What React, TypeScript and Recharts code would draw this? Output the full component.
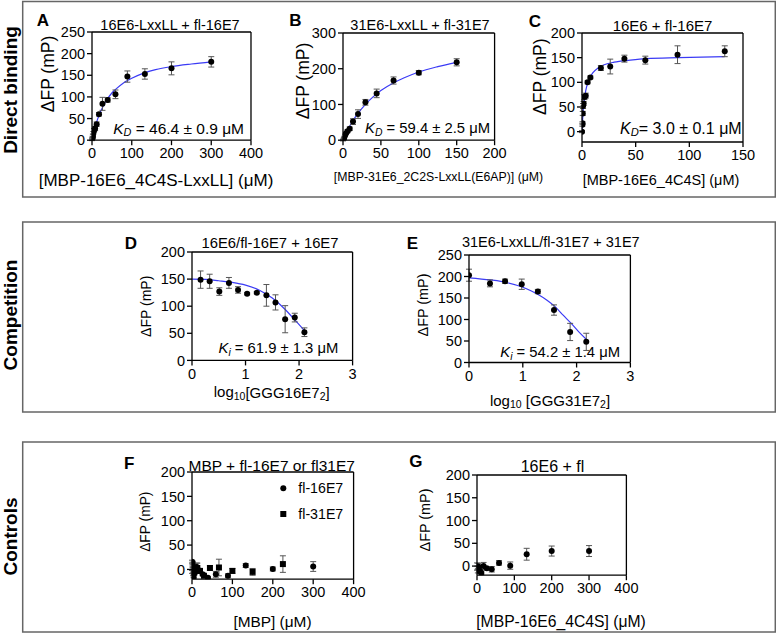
import React from 'react';
import { ComposedChart, Scatter, Line, XAxis, YAxis, ErrorBar, ReferenceLine } from 'recharts';

const FONT = '"Liberation Sans", Arial, sans-serif';

// A: 16E6-LxxLL + fl-16E7
const aConc = [0, 1.0, 1.5, 2.3, 3.5, 5.2, 7.8, 11.7, 17.6, 26.3, 39.5, 59, 89, 133, 200, 300];
const aFP = [1, 4, 7, 11, 17, 23, 27, 37, 60, 84, 93, 106, 147, 153, 166, 181];
const aErr = [2, 2, 2, 3, 3, 4, 5, 5, 4, 15, 5, 10, 13, 12, 15, 12];
const aFitX = [0, 2, 5, 10, 15, 20, 30, 40, 50, 60, 80, 100, 130, 160, 200, 250, 300];
const aFitY = [0, 8, 20, 37, 51, 63, 82, 97, 109, 118, 133, 143, 155, 163, 170, 176, 181];

// B: 31E6-LxxLL + fl-31E7
const bConc = [0, 0.8, 1.2, 1.7, 2.6, 3.9, 5.9, 8.8, 13.2, 19.8, 29.6, 44.4, 66.7, 100, 150];
const bFP = [0, 3, 6, 9, 14, 19, 25, 32, 52, 73, 106, 131, 167, 189, 218];
const bErr = [2, 2, 2, 2, 3, 3, 4, 5, 8, 12, 8, 12, 10, 6, 10];
const bFitX = [0, 2, 5, 10, 15, 20, 30, 40, 50, 67, 80, 100, 125, 150];
const bFitY = [0, 10, 23, 44, 61, 76, 101, 122, 139, 161, 174, 191, 206, 218];

// C: 16E6 + fl-16E7
const cConc = [0, 0.3, 0.46, 0.7, 1.0, 1.5, 2.3, 3.5, 5.2, 7.8, 17.6, 26.3, 39.5, 59, 89, 133];
const cFP = [0, 14, 17, 37, 52, 57, 70, 73, 100, 110, 129, 132, 148, 145, 156, 163];
const cErr = [2, 3, 3, 4, 5, 4, 5, 5, 3, 3, 5, 15, 7, 8, 18, 11];
const cFitX = [0, 0.5, 1, 1.5, 2.3, 3, 4, 5.2, 7, 10, 15, 20, 30, 45, 60, 90, 133];
const cFitY = [0, 22, 39, 52, 67, 77, 88, 98, 108, 119, 129, 135, 141, 145, 148, 150, 152];

// D: 16E6/fl-16E7 + 16E7
const dLog = [0.16, 0.33, 0.51, 0.69, 0.86, 1.03, 1.21, 1.39, 1.56, 1.74, 1.92, 2.1];
const dFP = [149, 146, 127, 143, 130, 123, 125, 120, 107, 76, 79, 52];
const dErr = [16, 13, 7, 10, 6, 2, 2, 20, 14, 25, 8, 8];
const dFitX = [0, 0.25, 0.5, 0.75, 1.0, 1.25, 1.5, 1.75, 1.9, 2.1];
const dFitY = [150, 149.5, 147, 144, 139, 130, 115, 93, 77, 55];

// E: 31E6-LxxLL/fl-31E7 + 31E7
const eLog = [0, 0.39, 0.67, 0.98, 1.28, 1.58, 1.88, 2.18];
const eFP = [203, 184, 189, 182, 165, 122, 71, 48];
const eErr = [14, 8, 5, 12, 5, 12, 20, 20];
const eFitX = [0, 0.4, 0.7, 1.0, 1.15, 1.3, 1.45, 1.6, 1.75, 1.9, 2.05, 2.18];
const eFitY = [197, 192, 186, 175, 167, 157, 145, 130, 110, 91, 70, 54];

// F: MBP controls
const f16Conc = [0, 1.5, 2.3, 3.5, 5.2, 7.8, 11.7, 17.6, 26.3, 39.5, 59, 89, 133, 200, 300];
const f16FP = [16, 8, 0, -5, -8, -3, 5, -2, -10, -17, -10, -13, 8, 1, 6];
const f16Err = [3, 3, 3, 3, 3, 4, 8, 4, 3, 2, 6, 4, 4, 4, 10];
const f31Conc = [0, 1.2, 1.7, 2.6, 3.9, 5.9, 8.8, 13.2, 19.8, 29.6, 44.4, 66.7, 100, 150, 225];
const f31FP = [-5, 12, 2, -10, -14, -6, 0, 3, -3, -13, 3, 4, -3, -5, 11];
const f31Err = [3, 3, 3, 3, 3, 3, 4, 10, 5, 3, 5, 17, 5, 7, 17];

// G: 16E6 + fl
const gConc = [0, 1.5, 2.3, 3.5, 5.2, 7.8, 11.7, 17.6, 26.3, 39.5, 59, 89, 133, 200, 300];
const gFP = [-1, -4, -10, -1, -7, -11, -15, 0, -5, -7, 7, 1, 26, 33, 33];
const gErr = [8, 4, 5, 7, 4, 4, 4, 8, 4, 6, 5, 8, 13, 11, 12];

type Pt = { x: number; y: number; e: number };
const zip = (xs: number[], ys: number[], es?: number[]): Pt[] =>
  xs.map((x, i) => ({ x, y: ys[i], e: es ? es[i] : 0 }));

const dot = (p: any) => <circle cx={p.cx} cy={p.cy} r={3} fill="#000" />;
const square = (p: any) => <rect x={p.cx - 3} y={p.cy - 3} width={6} height={6} fill="#000" />;

interface PanelProps {
  box: [number, number, number, number];
  xDomain: [number, number];
  yDomain: [number, number];
  xTicks: number[];
  yTicks: number[];
  series: { data: Pt[]; square?: boolean }[];
  fit?: Pt[];
}

const tickStyle = { fill: '#000', fontSize: 14.5, fontFamily: FONT };

const Panel = ({ box, xDomain, yDomain, xTicks, yTicks, series, fit }: PanelProps) => {
  const [L, T, R, B] = box;
  const padL = 60, padT = 10, padR = 25, padB = 30;
  return (
    <div style={{ position: 'absolute', left: L - padL, top: T - padT }}>
      <ComposedChart
        width={R - L + padL + padR}
        height={B - T + padT + padB}
        margin={{ top: padT, right: padR, left: 0, bottom: 0 }}
      >
        <XAxis type="number" dataKey="x" domain={xDomain} ticks={xTicks} interval={0} allowDataOverflow
          height={padB} tickSize={5} tickMargin={3} stroke="#000" strokeWidth={1.3} tick={tickStyle} />
        <YAxis type="number" domain={yDomain} ticks={yTicks} interval={0} allowDataOverflow
          width={padL} tickSize={5} tickMargin={2} stroke="#000" strokeWidth={1.3} tick={tickStyle} />
        <ReferenceLine y={yDomain[1]} stroke="#000" strokeWidth={1.3} />
        <ReferenceLine x={xDomain[1]} stroke="#000" strokeWidth={1.3} />
        {fit && (
          <Line data={fit} dataKey="y" type="monotone" stroke="#3b3bf5" strokeWidth={1.2}
            dot={false} activeDot={false} isAnimationActive={false} />
        )}
        {series.map((s, i) => (
          <Scatter key={i} data={s.data} dataKey="y" shape={s.square ? square : dot} isAnimationActive={false}>
            <ErrorBar dataKey="e" direction="y" width={3} stroke="#555" strokeWidth={1} />
          </Scatter>
        ))}
      </ComposedChart>
    </div>
  );
};

const T = (props: any) => <text fontFamily={FONT} fill="#000" dominantBaseline="central" {...props} />;

const YLab = ({ x, y, size }: { x: number; y: number; size: number }) => (
  <T transform={`translate(${x},${y}) rotate(-90)`} textAnchor="middle" fontSize={size}>ΔFP (mP)</T>
);

const Kd = ({ x, y, size, sub, rest }: { x: number; y: number; size: number; sub: string; rest: string }) => (
  <T x={x} y={y} textAnchor="end" fontSize={size}>
    <tspan fontStyle="italic">K</tspan>
    <tspan fontStyle="italic" fontSize={size * 0.7} dy={4}>{sub}</tspan>
    <tspan dy={-4}>{rest}</tspan>
  </T>
);

const letter = (s: string, x: number, y: number) => (
  <T x={x} y={y} textAnchor="middle" fontSize={17} fontWeight="bold">{s}</T>
);

const rowLabel = (s: string, x: number, y: number) => (
  <T transform={`translate(${x},${y}) rotate(-90)`} textAnchor="middle" fontSize={19} fontWeight="bold">{s}</T>
);

export default function App() {
  return (
    <div style={{ position: 'absolute', left: 0, top: 0, width: 776, height: 634, background: '#fff' }}>
      <Panel box={[91.7, 32.3, 250.7, 140.5]} xDomain={[0, 400]} yDomain={[0, 250]}
        xTicks={[0, 100, 200, 300, 400]} yTicks={[0, 50, 100, 150, 200, 250]}
        series={[{ data: zip(aConc, aFP, aErr) }]} fit={zip(aFitX, aFitY)} />
      <Panel box={[342.7, 33.3, 494.3, 140.5]} xDomain={[0, 200]} yDomain={[0, 300]}
        xTicks={[0, 50, 100, 150, 200]} yTicks={[0, 100, 200, 300]}
        series={[{ data: zip(bConc, bFP, bErr) }]} fit={zip(bFitX, bFitY)} />
      <Panel box={[581.7, 33.3, 742.7, 142.3]} xDomain={[0, 150]} yDomain={[-21, 200]}
        xTicks={[0, 50, 100, 150]} yTicks={[0, 50, 100, 150, 200]}
        series={[{ data: zip(cConc, cFP, cErr) }]} fit={zip(cFitX, cFitY)} />
      <Panel box={[191.7, 252.3, 352.3, 360.7]} xDomain={[0, 3]} yDomain={[0, 200]}
        xTicks={[0, 1, 2, 3]} yTicks={[0, 50, 100, 150, 200]}
        series={[{ data: zip(dLog, dFP, dErr) }]} fit={zip(dFitX, dFitY)} />
      <Panel box={[469.3, 255, 630.7, 362.5]} xDomain={[0, 3]} yDomain={[0, 250]}
        xTicks={[0, 1, 2, 3]} yTicks={[0, 50, 100, 150, 200, 250]}
        series={[{ data: zip(eLog, eFP, eErr) }]} fit={zip(eFitX, eFitY)} />
      <Panel box={[191.7, 472.3, 353.3, 579.5]} xDomain={[0, 400]} yDomain={[-20, 200]}
        xTicks={[0, 100, 200, 300, 400]} yTicks={[0, 50, 100, 150, 200]}
        series={[{ data: zip(f16Conc, f16FP, f16Err) }, { data: zip(f31Conc, f31FP, f31Err), square: true }]} />
      <Panel box={[477.3, 475, 626.7, 575.2]} xDomain={[0, 400]} yDomain={[-20, 200]}
        xTicks={[0, 100, 200, 300, 400]} yTicks={[0, 50, 100, 150, 200]}
        series={[{ data: zip(gConc, gFP, gErr) }]} />

      <svg width={776} height={634} style={{ position: 'absolute', left: 0, top: 0, pointerEvents: 'none' }}>
        <g fill="none" stroke="#666" strokeWidth={1.5}>
          <rect x={22.7} y={1.5} width={752.6} height={195.5} />
          <rect x={22.7} y={222} width={752.6} height={190} />
          <rect x={22.7} y={442} width={752.6} height={190} />
        </g>
        {rowLabel('Direct binding', 10.5, 90)}
        {rowLabel('Competition', 10.5, 315)}
        {rowLabel('Controls', 10.5, 536.5)}

        {letter('A', 43, 20)}
        {letter('B', 295.3, 20)}
        {letter('C', 535, 21)}
        {letter('D', 130.8, 243.3)}
        {letter('E', 412.5, 243.3)}
        {letter('F', 129.2, 463.3)}
        {letter('G', 415.8, 461.7)}

        <T x={170} y={25} textAnchor="middle" fontSize={14.5}>16E6-LxxLL + fl-16E7</T>
        <T x={420} y={25} textAnchor="middle" fontSize={14.5}>31E6-LxxLL + fl-31E7</T>
        <T x={662.5} y={25} textAnchor="middle" fontSize={15}>16E6 + fl-16E7</T>
        <T x={270} y={243.3} textAnchor="middle" fontSize={14.8}>16E6/fl-16E7 + 16E7</T>
        <T x={550.8} y={241.7} textAnchor="middle" fontSize={14.5}>31E6-LxxLL/fl-31E7 + 31E7</T>
        <T x={271.7} y={465} textAnchor="middle" fontSize={15.5}>MBP + fl-16E7 or fl31E7</T>
        <T x={552.5} y={466.7} textAnchor="middle" fontSize={16}>16E6 + fl</T>

        <Kd x={244} y={128} size={15.5} sub="D" rest=" = 46.4 ± 0.9 μM" />
        <Kd x={490} y={128} size={14.8} sub="D" rest=" = 59.4 ± 2.5 μM" />
        <Kd x={741.7} y={128.3} size={16} sub="D" rest="= 3.0 ± 0.1 μM" />
        <Kd x={338.3} y={348.3} size={14.8} sub="i" rest=" = 61.9 ± 1.3 μM" />
        <Kd x={620} y={351.7} size={14.8} sub="i" rest=" = 54.2 ± 1.4 μM" />

        <YLab x={48} y={74} size={17.5} />
        <YLab x={303.3} y={81} size={17.5} />
        <YLab x={540} y={76.7} size={17.5} />
        <YLab x={145.7} y={306.3} size={14} />
        <YLab x={423.3} y={305} size={14.4} />
        <YLab x={145.7} y={521.7} size={13.8} />
        <YLab x={425} y={520} size={14.4} />

        <T x={156} y={180} textAnchor="middle" fontSize={17}>[MBP-16E6_4C4S-LxxLL] (μM)</T>
        <T x={438.5} y={177} textAnchor="middle" fontSize={12.3}>[MBP-31E6_2C2S-LxxLL(E6AP)] (μM)</T>
        <T x={661} y={180} textAnchor="middle" fontSize={14.5}>[MBP-16E6_4C4S] (μM)</T>
        <T x={271.7} y={391.7} textAnchor="middle" fontSize={15}>
          log<tspan fontSize={10.5} dy={4}>10</tspan><tspan dy={-4}>[GGG16E7</tspan>
          <tspan fontSize={10.5} dy={4}>2</tspan><tspan dy={-4}>]</tspan>
        </T>
        <T x={550} y={400} textAnchor="middle" fontSize={15}>
          log<tspan fontSize={10.5} dy={4}>10</tspan><tspan dy={-4}> [GGG31E7</tspan>
          <tspan fontSize={10.5} dy={4}>2</tspan><tspan dy={-4}>]</tspan>
        </T>
        <T x={272.5} y={621.7} textAnchor="middle" fontSize={15.4}>[MBP] (μM)</T>
        <T x={561} y={621.7} textAnchor="middle" fontSize={15.7}>[MBP-16E6_4C4S] (μM)</T>

        <circle cx={283.3} cy={488.3} r={3} fill="#000" />
        <T x={298.3} y={488} fontSize={14.2}>fl-16E7</T>
        <rect x={280.3} y={511} width={6} height={6} fill="#000" />
        <T x={298.3} y={514} fontSize={14.2}>fl-31E7</T>
      </svg>
    </div>
  );
}
